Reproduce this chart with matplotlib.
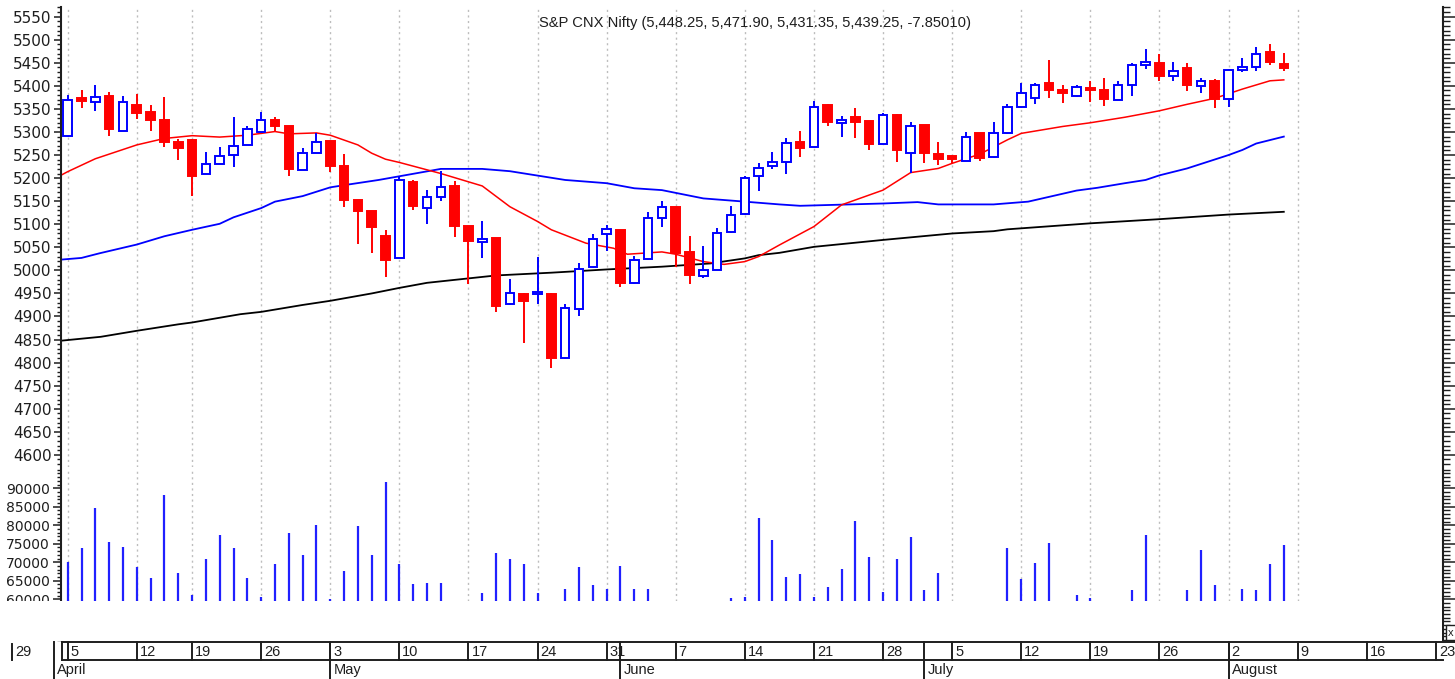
import numpy as np
import pandas as pd
import matplotlib
matplotlib.use("Agg")
import matplotlib.pyplot as plt
from matplotlib.patches import Rectangle
from matplotlib.ticker import MultipleLocator, FixedLocator

# ---- data (S&P CNX Nifty daily, 5 Apr - 6 Aug 2010) ----
opens = [5292, 5374, 5366, 5379, 5303, 5358, 5344, 5326, 5278, 5283,
         5210, 5231, 5250, 5272, 5301, 5326, 5312, 5218, 5255, 5280,
         5227, 5152, 5128, 5075, 5027, 5191, 5135, 5158, 5184, 5096,
         5061, 5070, 4927, 4949, 4948, 4949, 4809, 4916, 5007, 5078,
         5087, 4972, 5024, 5113, 5137, 5040, 4988, 5001, 5083, 5122,
         5205, 5227, 5236, 5278, 5268, 5359, 5319, 5332, 5323, 5274,
         5337, 5255, 5315, 5253, 5249, 5238, 5297, 5245, 5297, 5354,
         5373, 5406, 5391, 5377, 5396, 5390, 5370, 5402, 5445, 5449,
         5421, 5438, 5400, 5411, 5372, 5434, 5442, 5473, 5448.25]
highs = [5380, 5391, 5402, 5386, 5377, 5382, 5359, 5375, 5284, 5284,
         5257, 5268, 5332, 5313, 5343, 5333, 5313, 5265, 5297, 5281,
         5252, 5153, 5129, 5088, 5203, 5196, 5174, 5215, 5194, 5097,
         5108, 5071, 4981, 4950, 5030, 4950, 4927, 5017, 5078, 5098,
         5088, 5031, 5127, 5150, 5138, 5075, 5053, 5092, 5140, 5205,
         5232, 5257, 5288, 5303, 5368, 5360, 5335, 5351, 5324, 5341,
         5338, 5321, 5316, 5278, 5251, 5299, 5298, 5321, 5361, 5406,
         5407, 5456, 5402, 5402, 5411, 5418, 5411, 5449, 5479, 5469,
         5452, 5450, 5418, 5415, 5436, 5460, 5485, 5491, 5471.90]
lows = [5290, 5353, 5346, 5292, 5302, 5328, 5303, 5268, 5239, 5161,
        5209, 5230, 5225, 5271, 5300, 5303, 5205, 5217, 5254, 5213,
        5138, 5057, 5038, 4985, 5026, 5131, 5101, 5151, 5073, 4970,
        5026, 4910, 4926, 4843, 4927, 4788, 4808, 4900, 5006, 5041,
        4965, 4971, 5023, 5093, 5007, 4970, 4983, 5000, 5082, 5121,
        5173, 5219, 5210, 5246, 5267, 5314, 5290, 5288, 5260, 5273,
        5236, 5212, 5233, 5229, 5232, 5237, 5238, 5244, 5296, 5353,
        5360, 5373, 5362, 5376, 5366, 5356, 5369, 5377, 5437, 5411,
        5411, 5389, 5384, 5351, 5355, 5429, 5432, 5445, 5431.35]
closes = [5370, 5368, 5375, 5307, 5365, 5342, 5326, 5279, 5265, 5205,
          5231, 5247, 5270, 5306, 5325, 5313, 5219, 5255, 5279, 5227,
          5153, 5129, 5094, 5022, 5196, 5140, 5158, 5180, 5096, 5064,
          5068, 4923, 4950, 4934, 4954, 4811, 4918, 5003, 5068, 5089,
          4973, 5022, 5113, 5137, 5037, 4990, 5001, 5082, 5121, 5200,
          5223, 5236, 5277, 5265, 5355, 5322, 5325, 5322, 5273, 5336,
          5260, 5313, 5254, 5241, 5241, 5290, 5244, 5297, 5354, 5385,
          5402, 5391, 5384, 5397, 5391, 5372, 5402, 5445, 5451, 5422,
          5432, 5401, 5410, 5372, 5434, 5442, 5469, 5452, 5439.25]
volumes = [70200, 73800, 84800, 75500, 74050, 68700, 65850, 88100, 67100, 61100,
           70800, 77400, 73900, 65850, 60500, 69500, 77800, 72100, 80100, 60200,
           67750, 79800, 72100, 91800, 69500, 64100, 64400, 64400, 57000, 56000,
           61800, 72500, 70900, 69500, 61600, 58000, 62900, 68800, 63900, 62900,
           69100, 62900, 62900, 57000, 55000, 56000, 54000, 57000, 60450, 60550,
           82100, 75900, 66100, 66900, 60700, 63400, 68200, 81200, 71500, 62100,
           70900, 76900, 62500, 67100, 57000, 55000, 56000, 58000, 73800, 65500,
           69700, 75100, 58000, 61200, 60300, 57000, 58000, 62500, 77400, 56000,
           58000, 62500, 73400, 63900, 58000, 62800, 62400, 69500, 74700]

# moving averages, read at selected trading days (day 0 = 5 Apr)
ma_red_days = [-1, 0, 2, 5, 7, 9, 11, 13, 15, 16, 18, 19, 21, 22, 23, 24, 27, 30,
               32, 34, 35, 37.5, 39.5, 40.5, 43, 44, 46, 47.5, 49, 50, 51.5, 54,
               56, 59, 61, 63, 64, 66, 68, 69, 72, 74, 76.5, 79, 81, 83, 85, 87, 88]
ma_red = [5198, 5214, 5242, 5272, 5286, 5292, 5289, 5293, 5301, 5296, 5298, 5293,
          5272, 5254, 5241, 5234, 5210, 5183, 5138, 5106, 5088, 5059, 5048, 5035,
          5040, 5035, 5019, 5013, 5019, 5030, 5055, 5095, 5142, 5174, 5212, 5221,
          5232, 5252, 5283, 5297, 5312, 5320, 5332, 5346, 5360, 5373, 5393, 5411, 5413]
ma_blue_days = [-1, 1, 2.3, 5, 7, 9, 11, 12, 14, 15, 17, 19, 20.5, 22.5, 24, 27, 30,
                32, 36, 39, 41, 43, 46, 49, 51.5, 53, 59, 61.5, 63, 67, 69.5, 73,
                74.5, 76.5, 78, 79, 81, 84, 85, 86, 88]
ma_blue = [5022, 5027, 5037, 5056, 5074, 5088, 5101, 5115, 5135, 5149, 5161, 5180,
           5187, 5196, 5204, 5220, 5220, 5215, 5196, 5189, 5178, 5174, 5156, 5149,
           5143, 5140, 5145, 5148, 5143, 5143, 5149, 5173, 5179, 5189, 5196, 5206,
           5221, 5250, 5261, 5275, 5290]
ma_black_days = [-1, 2.4, 5, 8, 9, 12.5, 14, 17, 19, 22, 24, 26, 28.5, 31, 35, 39,
                 43, 46.5, 49, 50, 51.5, 54, 59, 64, 67, 68, 74, 79, 84, 88]
ma_black = [4846, 4856, 4869, 4883, 4887, 4905, 4910, 4925, 4934, 4950, 4962, 4973,
            4981, 4989, 4995, 5002, 5008, 5015, 5026, 5033, 5038, 5051, 5066, 5080,
            5085, 5089, 5102, 5111, 5121, 5127]

title = "S&P CNX Nifty (5,448.25, 5,471.90, 5,431.35, 5,439.25, -7.85010)"

# trading calendar (NSE holidays 2 Apr and 14 Apr)
holidays = pd.to_datetime(["2010-04-02", "2010-04-14"])
cal = pd.bdate_range("2010-03-29", "2010-08-27")
cal = cal[~cal.isin(holidays)]
start = list(cal).index(pd.Timestamp("2010-04-05"))
cal_pos = np.arange(len(cal)) - start
mondays = [(p, d) for p, d in zip(cal_pos, cal) if d.weekday() == 0]
month_starts = []
prev_month = cal[0].month
for p, d in zip(cal_pos, cal):
    if d.month != prev_month:
        month_starts.append((p, d))
        prev_month = d.month

# ---- figure ----
W, H = 1455, 679
fig = plt.figure(figsize=(W / 100, H / 100), dpi=100)
plt.rcParams["font.family"] = ["DejaVu Sans"]

RED = "#ff0000"
BLUE = "#0000ff"
INK = "#1e1e1e"
XMIN, XMAX = -0.52, 99.52


def fpos(x0, y0, x1, y1):
    return [x0 / W, 1 - y1 / H, (x1 - x0) / W, (y1 - y0) / H]


ax = fig.add_axes(fpos(60.5, 7, 1443, 467))
ax_v = fig.add_axes(fpos(60.5, 469.5, 1443, 640))
ax_d = fig.add_axes(fpos(60.5, 641, 1443, 679))

o = np.array(opens, float)
h = np.array(highs, float)
lo = np.array(lows, float)
c = np.array(closes, float)
x = np.arange(len(o))
up = c >= o

# gridlines on Mondays (5 Apr .. 9 Aug)
for p, d in mondays:
    if 0 <= p <= 89:
        for a in (ax, ax_v):
            a.axvline(p, color="#bdbdbd", lw=1.0, ls=(0, (1.5, 2.5)), zorder=0)

# candles
ax.vlines(x, lo, h, colors=np.where(up, BLUE, RED), lw=1.4, zorder=2)
body_lo = np.minimum(o, c)
body_h = np.maximum(np.abs(c - o), 0.6)
ax.bar(x[up], body_h[up], bottom=body_lo[up], width=0.62, facecolor="white",
       edgecolor=BLUE, lw=1.4, zorder=3)
ax.bar(x[~up], body_h[~up], bottom=body_lo[~up], width=0.62, facecolor=RED,
       edgecolor=RED, lw=1.4, zorder=3)

ax.plot(ma_black_days, ma_black, color="black", lw=1.3, zorder=1)
ax.plot(ma_blue_days, ma_blue, color=BLUE, lw=1.3, zorder=1)
ax.plot(ma_red_days, ma_red, color=RED, lw=1.1, zorder=1)

ax.set_xlim(XMIN, XMAX)
ax.set_ylim(4573.7, 5571)
ax.yaxis.set_major_locator(MultipleLocator(50))
ax.yaxis.set_minor_locator(MultipleLocator(10))

# volume
ax_v.vlines(x, 49000, volumes, color="#2020ff", lw=1.6, zorder=2)
ax_v.set_xlim(XMIN, XMAX)
ax_v.set_ylim(49000, 95080)
ax_v.yaxis.set_major_locator(FixedLocator(list(range(60000, 90001, 5000))))
ax_v.yaxis.set_minor_locator(MultipleLocator(1000))

for a, fs, lmaj in ((ax, 11, 5), (ax_v, 10, 6)):
    a.set_facecolor("none")
    for s in ("top", "bottom", "right"):
        a.spines[s].set_visible(False)
    a.spines["left"].set_linewidth(1.5)
    a.spines["left"].set_color(INK)
    a.set_xticks([])
    a.tick_params(axis="y", which="major", length=lmaj, width=1.1, color=INK,
                  labelsize=fs, labelcolor=INK, pad=1.5)
    a.tick_params(axis="y", which="minor", length=3, width=1.0, color=INK)
    sec = a.secondary_yaxis("right")
    sec.yaxis.set_major_locator(a.yaxis.get_major_locator())
    sec.yaxis.set_minor_locator(MultipleLocator(10 if a is ax else 1000))
    sec.spines["right"].set_linewidth(1.5)
    sec.spines["right"].set_color(INK)
    sec.tick_params(which="major", length=9, width=1.1, color=INK, labelright=False)
    sec.tick_params(which="minor", length=5, width=1.0, color=INK)

# white cover below the volume panel (left part)
fig.add_artist(Rectangle((0, 1 - 640.5 / H), 1441.6 / W, 40 / H,
                         transform=fig.transFigure, facecolor="white",
                         edgecolor="none", zorder=1))
ax_d.set_zorder(2)

# date strip
ax_d.set_xlim(XMIN, XMAX)
ax_d.set_ylim(0, 38)
ax_d.axis("off")
px = (XMAX - XMIN) / (1443 - 60.5)
lkw = dict(color=INK, lw=1.4, clip_on=False)
ax_d.plot([XMIN + 1.5 * px, XMAX + 12 * px], [37, 37], **lkw)
ax_d.plot([XMIN + 1.5 * px, XMAX], [19, 19], **lkw)
ax_d.plot([XMIN + 1.5 * px] * 2, [19, 37], **lkw)
for p, d in mondays:
    ax_d.plot([p, p], [19, 35 if p < 0 else 37], **lkw)
    ax_d.text(p + 3 * px, 23.5, str(d.day), fontsize=10.5, color=INK,
              family="Liberation Sans", ha="left", va="baseline", clip_on=False)
for p, d in month_starts:
    ax_d.plot([p, p], [0, 37], **lkw)
    ax_d.text(p + 3 * px, 5, d.strftime("%B"), fontsize=10.5, color=INK,
              family="Liberation Sans", ha="left", va="baseline", clip_on=False)

# small close box at the right
fig.add_artist(Rectangle((1445.5 / W, 1 - 640 / H), 10 / W, 15 / H,
                         transform=fig.transFigure, facecolor="white",
                         edgecolor=INK, lw=1.0, zorder=3))
fig.text(1450.5 / W, 1 - 633 / H, "x", fontsize=8, ha="center", va="center",
         color=INK, family="Liberation Sans", zorder=4)

fig.text(755 / W, 1 - 26.7 / H, title, fontsize=10.6, ha="center", va="baseline",
         color=INK, family="Liberation Sans")

fig.savefig("out.png", dpi=100, facecolor="white")
